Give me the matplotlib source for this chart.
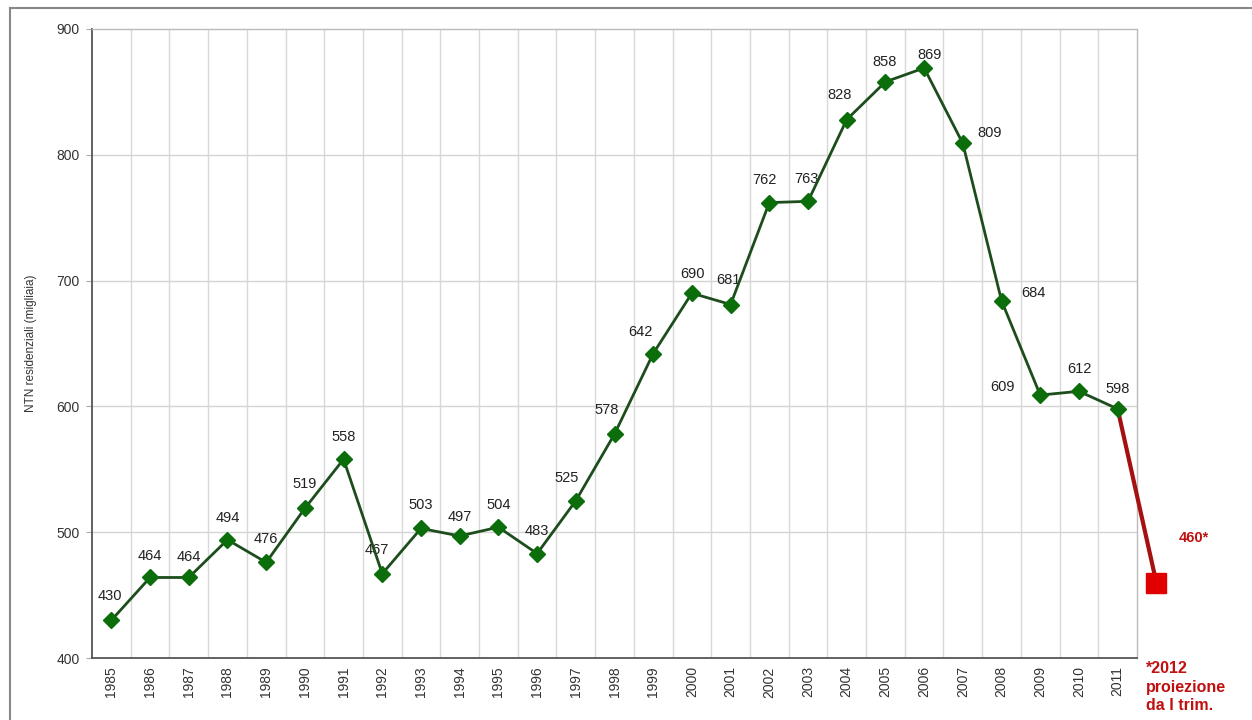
import matplotlib.pyplot as plt
import numpy as np
from matplotlib.lines import Line2D

plt.rcParams['font.family'] = ['Liberation Sans', 'DejaVu Sans']

# NTN residenziali (migliaia)
years = [1985, 1986, 1987, 1988, 1989, 1990, 1991, 1992, 1993, 1994, 1995, 1996, 1997,
         1998, 1999, 2000, 2001, 2002, 2003, 2004, 2005, 2006, 2007, 2008, 2009, 2010, 2011]
ntn = [430, 464, 464, 494, 476, 519, 558, 467, 503, 497, 504, 483, 525,
       578, 642, 690, 681, 762, 763, 828, 858, 869, 809, 684, 609, 612, 598]
proj_year = 2012
proj_value = 460
proj_note = "*2012\nproiezione\nda I trim."
ylabel = "NTN residenziali (migliaia)"

# label offsets in pixels (dx, dy) for each point label
label_off = [(-1, 24), (0, 21), (0, 20), (0, 22), (0, 23), (0, 24), (0, 22), (-5, 24),
             (0, 23), (0, 19), (0, 22), (0, 23), (-9, 23), (-8, 24), (-13, 22), (1, 19),
             (-2, 25), (-5, 23), (-2, 22), (-7, 25), (-1, 20), (5, 13), (27, 10),
             (32, 8), (-38, 8), (0, 22), (0, 20)]

fig = plt.figure(figsize=(12.52, 7.2), dpi=100)
ax = fig.add_axes([92 / 1252, 1 - 658 / 720, (1137 - 92) / 1252, (658 - 29) / 720])

x = np.arange(len(years))
px = proj_year - years[0]

# projection segment (drawn outside the axes)
ax.plot([x[-1], px], [ntn[-1], proj_value], color='#a51010', lw=3, clip_on=False, zorder=3)
ax.plot([px], [proj_value], marker='s', ms=14, color='#e00000', ls='none', clip_on=False, zorder=4)

ax.plot(x, ntn, color='#1d4d1d', lw=2, marker='D', ms=8, mfc='#0b6e0b', mec='#0b6e0b', zorder=5)

for xi, v, (dx, dy) in zip(x, ntn, label_off):
    ax.annotate(str(v), (xi, v), xytext=(dx, dy), textcoords='offset pixels',
                ha='center', va='center', fontsize=10.5, color='#222222')

ax.annotate(f"{proj_value}*", (px, proj_value), xytext=(38, 45), textcoords='offset pixels',
            ha='center', va='center', fontsize=10.5, color='#c01010', fontweight='bold',
            annotation_clip=False)
ax.annotate(proj_note, (px, 400), xytext=(-10, -3), textcoords='offset pixels',
            ha='left', va='top', fontsize=11.5, color='#c01010', fontweight='bold',
            linespacing=1.3, annotation_clip=False)

ax.set_xlim(-0.5, len(years) - 0.5)
ax.set_ylim(400, 900)
ax.set_yticks([400, 500, 600, 700, 800, 900])
ax.set_xticks(x)
ax.set_xticklabels([str(y) for y in years], rotation=90, fontsize=10, color='#333333')
ax.tick_params(axis='x', length=0, pad=6)
ax.tick_params(axis='y', length=4, color='#aaaaaa', labelsize=10, labelcolor='#333333', pad=5)

# grid: horizontal at ticks, vertical at category boundaries
for yv in [500, 600, 700, 800]:
    ax.axhline(yv, color='#d4d4d4', lw=1, zorder=0)
for b in np.arange(0.5, len(years) - 1, 1.0):
    ax.axvline(b, color='#d8d8d8', lw=1, zorder=0)

ax.set_ylabel(ylabel, fontsize=8.5, color='#333333', labelpad=14)

for side in ['left', 'bottom']:
    ax.spines[side].set_color('#555555')
    ax.spines[side].set_linewidth(1.3)
for side in ['top', 'right']:
    ax.spines[side].set_color('#bbbbbb')
    ax.spines[side].set_linewidth(1)

# outer frame (top and left)
fig.add_artist(Line2D([10 / 1252, 10 / 1252], [0, 1 - 8 / 720], color='#888888', lw=1.5))
fig.add_artist(Line2D([10 / 1252, 1], [1 - 8 / 720, 1 - 8 / 720], color='#888888', lw=1.5))

fig.savefig('out.png', dpi=100)
